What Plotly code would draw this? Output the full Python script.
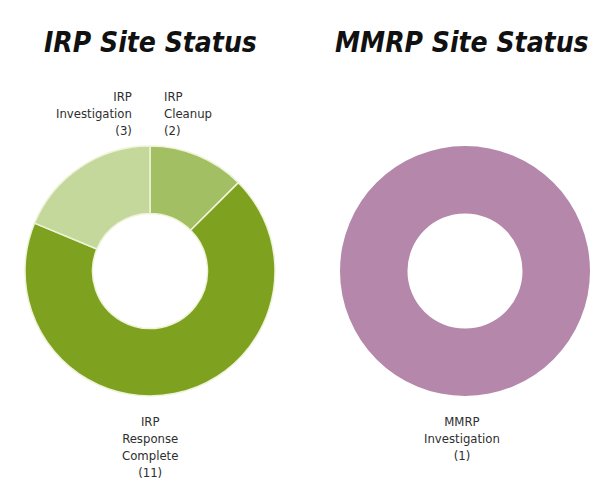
import plotly.graph_objects as go

# page is drawn with an 8px body margin, so the figure is a bit smaller
PAGE_W, PAGE_H = 605, 494
OFF = 8
W, H = PAGE_W - OFF, PAGE_H - OFF

irp_labels = ["IRP Cleanup", "IRP Response Complete", "IRP Investigation"]
irp_values = [2, 11, 3]
irp_colors = ["#a3bf63", "#7ea21f", "#c4d89b"]

mmrp_labels = ["MMRP Investigation"]
mmrp_values = [1]
mmrp_colors = ["#b487ab"]

titles = ["IRP Site Status", "MMRP Site Status"]

label_texts = ["IRP<br>Investigation<br>(3)", "IRP<br>Cleanup<br>(2)",
               "IRP<br>Response<br>Complete<br>(11)", "MMRP<br>Investigation<br>(1)"]


def px_x(x):
    return (x - OFF) / W


def px_y(y):
    return 1 - (y - OFF) / H


fig = go.Figure()
fig.add_trace(go.Pie(labels=irp_labels, values=irp_values, hole=0.46, sort=False,
                     direction="clockwise", rotation=0, textinfo="none",
                     marker=dict(colors=irp_colors, line=dict(color="#eef3d8", width=1.5)),
                     domain=dict(x=[px_x(25), px_x(275)], y=[px_y(397), px_y(145)]),
                     hoverinfo="label+value"))
fig.add_trace(go.Pie(labels=mmrp_labels, values=mmrp_values, hole=0.46, sort=False,
                     direction="clockwise", rotation=0, textinfo="none",
                     marker=dict(colors=mmrp_colors, line=dict(width=0)),
                     domain=dict(x=[px_x(340), px_x(590)], y=[px_y(397), px_y(145)]),
                     hoverinfo="label+value"))

lab_font = dict(family="DejaVu Sans Condensed, Roboto, sans-serif", size=13, color="#2e2e2e")
title_font = dict(family="DejaVu Sans Condensed, Roboto, sans-serif", size=28,
                  color="#111111", weight="bold", style="italic")

ann = [
    dict(text=titles[0], x=px_x(150), y=px_y(43), xanchor="center", yanchor="middle", font=title_font),
    dict(text=titles[1], x=px_x(462), y=px_y(43), xanchor="center", yanchor="middle", font=title_font),
    dict(text=label_texts[0], x=px_x(134), y=px_y(87), xanchor="right", yanchor="top", align="right", font=lab_font),
    dict(text=label_texts[1], x=px_x(162), y=px_y(87), xanchor="left", yanchor="top", align="left", font=lab_font),
    dict(text=label_texts[2], x=px_x(150), y=px_y(412), xanchor="center", yanchor="top", align="center", font=lab_font),
    dict(text=label_texts[3], x=px_x(462), y=px_y(412), xanchor="center", yanchor="top", align="center", font=lab_font),
]
for a in ann:
    a.update(xref="paper", yref="paper", showarrow=False)

fig.update_layout(width=W, height=H, margin=dict(l=0, r=0, t=0, b=0),
                  paper_bgcolor="white", plot_bgcolor="white",
                  showlegend=False, annotations=ann)

fig.write_html("out.html")
